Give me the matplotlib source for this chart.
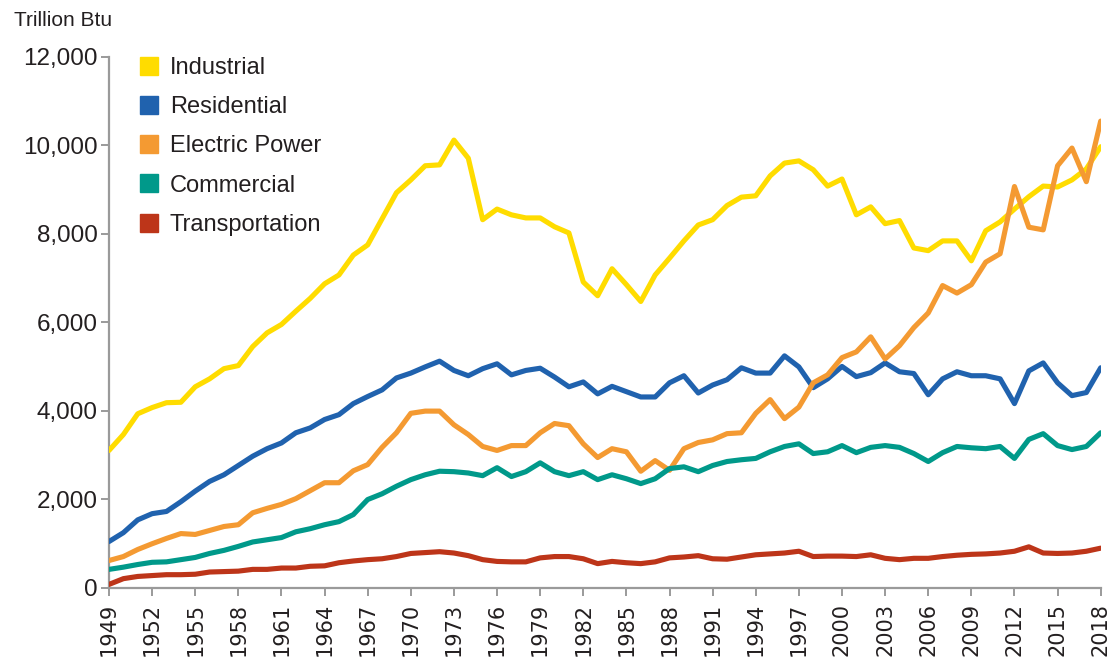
import matplotlib
matplotlib.use("Agg")
import matplotlib.pyplot as plt
from matplotlib.lines import Line2D

years = list(range(1949, 2019))

industrial = [3100, 3460, 3930, 4070, 4180, 4190, 4540, 4720, 4950, 5020,
              5450, 5760, 5950, 6250, 6540, 6870, 7070, 7520, 7750, 8340,
              8930, 9220, 9540, 9560, 10120, 9710, 8320, 8560, 8430, 8360,
              8360, 8160, 8020, 6910, 6600, 7210, 6850, 6470, 7070, 7450,
              7840, 8200, 8320, 8640, 8830, 8860, 9310, 9600, 9650, 9450,
              9080, 9240, 8430, 8610, 8230, 8300, 7680, 7620, 7840, 7840,
              7390, 8070, 8270, 8560, 8840, 9080, 9060, 9220, 9470, 9970]

residential = [1040, 1240, 1530, 1670, 1720, 1940, 2180, 2400, 2550, 2760,
               2970, 3140, 3270, 3500, 3610, 3800, 3910, 4160, 4320, 4470,
               4740, 4850, 4990, 5120, 4910, 4790, 4950, 5060, 4810, 4910,
               4960, 4760, 4540, 4650, 4380, 4550, 4430, 4310, 4310, 4630,
               4790, 4400, 4580, 4700, 4970, 4850, 4850, 5240, 4990, 4520,
               4720, 5000, 4770, 4860, 5080, 4880, 4840, 4360, 4720, 4880,
               4790, 4790, 4720, 4160, 4900, 5080, 4630, 4340, 4410, 4970]

electric = [610, 700, 860, 990, 1110, 1220, 1200, 1290, 1380, 1420,
            1690, 1790, 1880, 2010, 2190, 2370, 2370, 2640, 2780, 3170,
            3500, 3940, 3990, 3990, 3680, 3460, 3190, 3100, 3210, 3210,
            3500, 3710, 3660, 3250, 2940, 3140, 3070, 2630, 2870, 2650,
            3140, 3280, 3340, 3480, 3500, 3940, 4250, 3820, 4080, 4630,
            4810, 5200, 5330, 5670, 5170, 5470, 5880, 6210, 6830, 6660,
            6850, 7360, 7550, 9070, 8150, 8090, 9540, 9940, 9180, 10550]

commercial = [410, 460, 520, 570, 580, 630, 680, 770, 840, 930,
              1030, 1080, 1130, 1260, 1330, 1420, 1490, 1650, 1990, 2120,
              2290, 2440, 2550, 2630, 2620, 2590, 2530, 2710, 2510, 2620,
              2820, 2620, 2530, 2620, 2440, 2550, 2460, 2350, 2460, 2690,
              2730, 2620, 2760, 2850, 2890, 2920, 3070, 3190, 3250, 3030,
              3070, 3210, 3050, 3170, 3210, 3170, 3030, 2850, 3050, 3190,
              3160, 3140, 3190, 2920, 3350, 3480, 3210, 3120, 3190, 3500]

transportation = [70, 200, 250, 270, 290, 290, 300, 350, 360, 370,
                  410, 410, 440, 440, 480, 490, 560, 600, 630, 650,
                  700, 770, 790, 810, 780, 720, 630, 590, 580, 580,
                  670, 700, 700, 650, 540, 590, 560, 540, 580, 670,
                  690, 720, 650, 640, 690, 740, 760, 780, 820, 700,
                  710, 710, 700, 740, 660, 630, 660, 660, 700, 730,
                  750, 760, 780, 820, 920, 780, 770, 780, 820, 890]

series_names = ["Industrial", "Residential", "Electric Power", "Commercial", "Transportation"]
series_values = [industrial, residential, electric, commercial, transportation]
colors = ["#FFDC00", "#2062AE", "#F49A32", "#00998A", "#BD3519"]

xticks = list(range(1949, 2019, 3))
yticks = [0, 2000, 4000, 6000, 8000, 10000, 12000]

plt.rcParams['font.family'] = ['Liberation Sans', 'DejaVu Sans']
text_color = "#231f20"
axis_color = "#9a9a9a"

W, H = 1111, 658
fig = plt.figure(figsize=(W / 100, H / 100), dpi=100)
left, right, bottom, top = 109, 1100.7, 587.5, 57
ax = fig.add_axes([left / W, 1 - bottom / H, (right - left) / W, (bottom - top) / H])

for i, (vals, c) in enumerate(zip(series_values, colors)):
    ax.plot(years, vals, color=c, lw=3.7,
            solid_joinstyle="round", solid_capstyle="round", zorder=3 + i * 0.01)

ax.set_xlim(1949, 2018)
ax.set_ylim(0, 12000)
ax.set_xticks(xticks)
ax.set_xticklabels([str(y) for y in xticks], rotation=90, fontsize=15,
                   family=['DejaVu Sans'], color=text_color)
ax.set_yticks(yticks)
ax.set_yticklabels([f"{v:,}" for v in yticks], fontsize=17.5, color=text_color)

for s in ["top", "right"]:
    ax.spines[s].set_visible(False)
for s in ["left", "bottom"]:
    ax.spines[s].set_color(axis_color)
    ax.spines[s].set_linewidth(1.6)
    ax.spines[s].set_clip_on(False)
ax.tick_params(axis="both", colors=axis_color, width=1.4, length=6, labelcolor=text_color)
ax.tick_params(axis="y", pad=2)
ax.tick_params(axis="x", pad=5)
for lab in ax.get_xticklabels():
    lab.set_family(['DejaVu Sans'])

handles = [Line2D([], [], marker="s", ls="none", markersize=13.2,
                  markerfacecolor=c, markeredgecolor=c) for c in colors]
leg = ax.legend(handles, series_names, loc="upper left",
                bbox_to_anchor=(138 / W, 1 - 57 / H), bbox_transform=fig.transFigure,
                frameon=False, fontsize=17, labelspacing=0.73, handlelength=0.9,
                handletextpad=0.45, borderpad=0, borderaxespad=0)
for t in leg.get_texts():
    t.set_color(text_color)

fig.text(14 / W, 1 - 20 / H, "Trillion Btu", fontsize=15, color=text_color,
         ha="left", va="center")

fig.savefig("out.png", dpi=100)
